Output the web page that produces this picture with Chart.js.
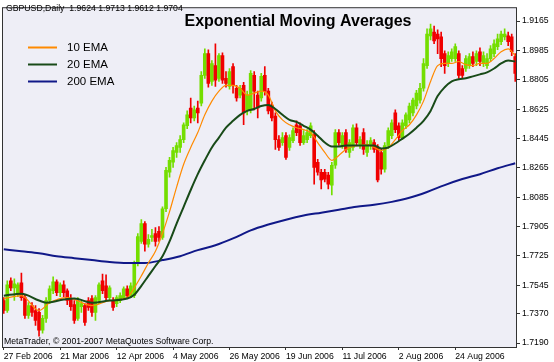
<!DOCTYPE html>
<html><head><meta charset="utf-8">
<script src="https://cdn.jsdelivr.net/npm/chart.js@4.4.0/dist/chart.umd.min.js"></script>
<style>html,body{margin:0;padding:0;background:#fff;}#wrap{width:554px;height:362px;}</style>
</head><body><div id="wrap"><canvas id="c" width="554" height="362"></canvas></div>
<script>
// ---- data ----
const startDate = '2006-02-27';
const barCount = 146;
const xTickLabels = ['27 Feb 2006','21 Mar 2006','12 Apr 2006','4 May 2006','26 May 2006','19 Jun 2006','11 Jul 2006','2 Aug 2006','24 Aug 2006'];
const yTicks = [1.9165,1.8985,1.8805,1.8625,1.8445,1.8265,1.8085,1.7905,1.7725,1.7545,1.7370,1.7190];

const opens = [1.7451,1.7390,1.7572,1.7529,1.7499,1.7560,1.7469,1.7360,1.7420,1.7390,
1.7378,1.7269,1.7342,1.7451,1.7511,1.7566,1.7499,1.7547,1.7511,1.7463,
1.7426,1.7342,1.7414,1.7420,1.7451,1.7463,1.7378,1.7451,1.7572,1.7541,
1.7469,1.7451,1.7432,1.7451,1.7469,1.7523,1.7481,1.7481,1.7681,1.7814,
1.7923,1.7796,1.7838,1.7862,1.7875,1.7838,1.8014,1.8238,1.8299,1.8359,
1.8390,1.8438,1.8523,1.8632,1.8571,1.8632,1.8662,1.8832,1.8965,1.8795,
1.8892,1.8814,1.8953,1.8814,1.8765,1.8886,1.8753,1.8711,1.8771,1.8620,
1.8620,1.8832,1.8711,1.8693,1.8832,1.8735,1.8650,1.8583,1.8438,1.8420,
1.8462,1.8390,1.8432,1.8529,1.8523,1.8420,1.8438,1.8462,1.8468,1.8299,
1.8238,1.8238,1.8220,1.8159,1.8281,1.8481,1.8402,1.8481,1.8359,1.8390,
1.8511,1.8408,1.8481,1.8359,1.8402,1.8420,1.8390,1.8359,1.8256,1.8402,
1.8462,1.8602,1.8523,1.8450,1.8523,1.8559,1.8602,1.8644,1.8680,1.8753,
1.8892,1.9074,1.9098,1.9086,1.9068,1.8965,1.8905,1.8935,1.8935,1.8965,
1.8874,1.8874,1.8892,1.8947,1.8917,1.8977,1.8905,1.8892,1.8935,1.8965,
1.9008,1.9038,1.9068,1.9074,1.9068,1.8947];
const highs = [1.7469,1.7572,1.7590,1.7584,1.7560,1.7620,1.7487,1.7438,1.7438,1.7420,
1.7402,1.7360,1.7469,1.7541,1.7596,1.7578,1.7560,1.7572,1.7523,1.7487,
1.7451,1.7469,1.7451,1.7432,1.7469,1.7481,1.7481,1.7560,1.7614,1.7608,
1.7541,1.7469,1.7481,1.7499,1.7535,1.7541,1.7560,1.7693,1.7862,1.7947,
1.7935,1.7856,1.7887,1.7899,1.7905,1.8026,1.8268,1.8329,1.8390,1.8420,
1.8462,1.8541,1.8614,1.8693,1.8644,1.8674,1.8856,1.8995,1.8989,1.8923,
1.9026,1.8965,1.8971,1.8856,1.8874,1.8905,1.8771,1.8771,1.8789,1.8735,
1.8862,1.8856,1.8735,1.8844,1.8886,1.8753,1.8668,1.8602,1.8462,1.8481,
1.8481,1.8468,1.8511,1.8553,1.8541,1.8493,1.8499,1.8541,1.8493,1.8317,
1.8256,1.8256,1.8238,1.8299,1.8499,1.8499,1.8481,1.8499,1.8438,1.8529,
1.8535,1.8456,1.8505,1.8432,1.8450,1.8438,1.8408,1.8378,1.8420,1.8511,
1.8559,1.8620,1.8541,1.8559,1.8602,1.8662,1.8693,1.8741,1.8783,1.8935,
1.9117,1.9147,1.9135,1.9111,1.9098,1.8983,1.8977,1.8995,1.9026,1.8983,
1.8892,1.8953,1.8965,1.8977,1.8983,1.9001,1.8977,1.8965,1.9014,1.9050,
1.9086,1.9104,1.9117,1.9098,1.9086,1.8965];
const lows = [1.7372,1.7378,1.7511,1.7451,1.7475,1.7451,1.7342,1.7342,1.7354,1.7299,
1.7233,1.7251,1.7317,1.7432,1.7493,1.7481,1.7475,1.7475,1.7426,1.7390,
1.7311,1.7329,1.7378,1.7299,1.7390,1.7354,1.7329,1.7432,1.7493,1.7451,
1.7451,1.7390,1.7414,1.7438,1.7457,1.7469,1.7469,1.7469,1.7663,1.7802,
1.7753,1.7778,1.7814,1.7784,1.7814,1.7826,1.7996,1.8208,1.8268,1.8329,
1.8359,1.8420,1.8505,1.8541,1.8553,1.8541,1.8644,1.8814,1.8759,1.8771,
1.8765,1.8795,1.8783,1.8759,1.8747,1.8723,1.8674,1.8693,1.8529,1.8590,
1.8602,1.8620,1.8571,1.8674,1.8711,1.8596,1.8553,1.8378,1.8371,1.8402,
1.8317,1.8371,1.8420,1.8462,1.8402,1.8408,1.8420,1.8450,1.8165,1.8220,
1.8135,1.8178,1.8135,1.8099,1.8262,1.8402,1.8384,1.8359,1.8329,1.8371,
1.8402,1.8384,1.8347,1.8335,1.8378,1.8359,1.8178,1.8226,1.8238,1.8384,
1.8444,1.8481,1.8432,1.8438,1.8505,1.8541,1.8583,1.8626,1.8662,1.8735,
1.8874,1.9050,1.9026,1.8965,1.8886,1.8844,1.8886,1.8917,1.8917,1.8814,
1.8814,1.8856,1.8874,1.8886,1.8892,1.8892,1.8886,1.8874,1.8917,1.8947,
1.8989,1.9020,1.9050,1.9014,1.8953,1.8795];
const closes = [1.7390,1.7547,1.7529,1.7554,1.7547,1.7469,1.7360,1.7420,1.7378,1.7329,
1.7269,1.7342,1.7451,1.7523,1.7566,1.7499,1.7547,1.7499,1.7451,1.7414,
1.7329,1.7451,1.7432,1.7317,1.7408,1.7378,1.7469,1.7547,1.7511,1.7469,
1.7529,1.7408,1.7469,1.7481,1.7523,1.7481,1.7541,1.7681,1.7844,1.7923,
1.7796,1.7826,1.7850,1.7814,1.7838,1.8014,1.8250,1.8311,1.8371,1.8402,
1.8438,1.8529,1.8590,1.8571,1.8620,1.8602,1.8832,1.8965,1.8783,1.8905,
1.8802,1.8953,1.8802,1.8783,1.8856,1.8771,1.8693,1.8753,1.8602,1.8711,
1.8844,1.8735,1.8632,1.8826,1.8735,1.8614,1.8571,1.8438,1.8390,1.8450,
1.8329,1.8450,1.8493,1.8481,1.8420,1.8462,1.8481,1.8523,1.8268,1.8238,
1.8190,1.8196,1.8165,1.8281,1.8481,1.8420,1.8462,1.8378,1.8420,1.8511,
1.8420,1.8438,1.8378,1.8408,1.8432,1.8378,1.8190,1.8256,1.8402,1.8493,
1.8541,1.8499,1.8450,1.8541,1.8590,1.8644,1.8680,1.8723,1.8753,1.8905,
1.9086,1.9117,1.9044,1.9056,1.8935,1.8892,1.8953,1.8977,1.9008,1.8832,
1.8832,1.8935,1.8947,1.8905,1.8965,1.8917,1.8953,1.8935,1.8995,1.9026,
1.9056,1.9086,1.9086,1.9038,1.8977,1.8844];

const ema10Idx = [0,5,10,13,18,25,30,35,37,39,41,43,45,47,49,51,53,55,57,59,61,63,65,67,69,71,73,75,77,79,81,83,85,87,89,91,93,95,97,99,101,103,105,107,109,111,113,115,117,119,121,123,125,127,129,131,133,135,137,139,141,143,145];
const ema10Val = [1.7463,1.7481,1.7390,1.7438,1.7469,1.7420,1.7451,1.7469,1.7529,1.7602,1.7681,1.7753,1.7862,1.7996,1.8147,1.8287,1.8390,1.8481,1.8590,1.8674,1.8735,1.8771,1.8771,1.8753,1.8711,1.8723,1.8735,1.8711,1.8614,1.8559,1.8529,1.8511,1.8499,1.8481,1.8420,1.8359,1.8311,1.8341,1.8378,1.8396,1.8402,1.8408,1.8390,1.8371,1.8390,1.8438,1.8493,1.8529,1.8590,1.8674,1.8795,1.8892,1.8905,1.8905,1.8917,1.8898,1.8892,1.8905,1.8905,1.8935,1.8977,1.8995,1.8953];
const ema20Idx = [0,5,10,12,17,20,25,30,35,37,39,41,43,45,47,49,51,53,55,57,59,61,63,65,67,69,71,73,75,77,79,81,83,85,87,89,91,93,95,97,99,101,103,105,107,109,111,113,115,117,119,121,123,125,127,129,131,133,135,137,139,141,143,145];
const ema20Val = [1.7481,1.7493,1.7451,1.7438,1.7457,1.7463,1.7438,1.7451,1.7463,1.7487,1.7541,1.7602,1.7663,1.7723,1.7814,1.7923,1.8026,1.8129,1.8226,1.8311,1.8390,1.8450,1.8511,1.8553,1.8590,1.8614,1.8626,1.8644,1.8650,1.8626,1.8590,1.8559,1.8547,1.8523,1.8499,1.8462,1.8420,1.8396,1.8396,1.8402,1.8402,1.8402,1.8402,1.8402,1.8384,1.8390,1.8414,1.8444,1.8474,1.8511,1.8553,1.8614,1.8705,1.8759,1.8795,1.8808,1.8814,1.8826,1.8838,1.8850,1.8874,1.8905,1.8923,1.8917];
const ema200Idx = [0,5,10,15,20,25,30,35,40,45,50,55,60,65,70,75,80,85,90,95,100,105,110,115,120,125,130,135,140,145];
const ema200Val = [1.7766,1.7753,1.7741,1.7723,1.7711,1.7699,1.7687,1.7681,1.7681,1.7699,1.7723,1.7760,1.7790,1.7832,1.7881,1.7917,1.7947,1.7972,1.7990,1.8008,1.8026,1.8038,1.8056,1.8081,1.8117,1.8159,1.8196,1.8226,1.8262,1.8293];

// ---- build ----
const MONTHS = ['Jan','Feb','Mar','Apr','May','Jun','Jul','Aug','Sep','Oct','Nov','Dec'];
const categories = [];
(function(){
  const d = new Date(startDate + 'T12:00:00Z');
  while (categories.length < barCount) {
    const wd = d.getUTCDay();
    if (wd !== 0 && wd !== 6) categories.push(d.getUTCDate() + ' ' + MONTHS[d.getUTCMonth()] + ' ' + d.getUTCFullYear());
    d.setUTCDate(d.getUTCDate() + 1);
  }
})();
const xTickIdx = xTickLabels.map(l => categories.indexOf(l));

const UP = '#74de00', DOWN = '#f00000';
const candleColors = opens.map((o, i) => closes[i] >= o ? UP : DOWN);
const pts = (idx, val) => idx.map((k, j) => ({x: categories[k], y: val[j]}));

const FONT = '"Liberation Sans", Arial, sans-serif';
Chart.defaults.font.family = FONT;
Chart.defaults.color = '#000';

const mt4 = {
  id: 'mt4',
  beforeDraw(chart) {
    const {ctx, chartArea: a} = chart;
    ctx.save();
    ctx.fillStyle = '#ffffff';
    ctx.fillRect(0, 0, chart.width, chart.height);
    ctx.fillStyle = '#eeeef6';
    ctx.fillRect(a.left, a.top, a.right - a.left, a.bottom - a.top);
    ctx.restore();
  },
  afterDraw(chart) {
    const {ctx, chartArea: a} = chart;
    ctx.save();
    ctx.strokeStyle = '#333';
    ctx.lineWidth = 1;
    ctx.strokeRect(a.left + 0.5, a.top + 0.5, a.right - a.left - 1, a.bottom - a.top);
    ctx.fillStyle = '#000';
    ctx.textBaseline = 'middle';
    ctx.textAlign = 'left';
    ctx.font = '8.7px ' + FONT;
    ctx.fillText('GBPUSD,Daily  1.9624 1.9713 1.9612 1.9704', 6, 9);
    ctx.fillText('MetaTrader, \u00A9 2001-2007 MetaQuotes Software Corp.', 4, 342);
    ctx.font = 'bold 16px ' + FONT;
    ctx.textAlign = 'center';
    ctx.fillText('Exponential Moving Averages', 298, 22);
    // legend
    const items = chart.data.datasets.filter(d => d.type === 'line');
    ctx.textAlign = 'left';
    ctx.font = '11.5px ' + FONT;
    items.forEach((d, k) => {
      const y = 47 + k * 17;
      ctx.strokeStyle = d.borderColor;
      ctx.lineWidth = 2;
      ctx.beginPath(); ctx.moveTo(28, y + 0.5); ctx.lineTo(57, y + 0.5); ctx.stroke();
      ctx.fillStyle = '#000';
      ctx.fillText(d.label, 67, y + 1);
    });
    ctx.restore();
  }
};

new Chart(document.getElementById('c'), {
  type: 'bar',
  data: {
    labels: categories,
    datasets: [
      {type: 'line', label: '10 EMA', data: pts(ema10Idx, ema10Val), borderColor: '#ff8a00', borderWidth: 1.2, pointRadius: 0, cubicInterpolationMode: 'monotone', order: 1},
      {type: 'line', label: '20 EMA', data: pts(ema20Idx, ema20Val), borderColor: '#184a18', borderWidth: 2, pointRadius: 0, cubicInterpolationMode: 'monotone', order: 0},
      {type: 'line', label: '200 EMA', data: pts(ema200Idx, ema200Val), borderColor: '#101888', borderWidth: 2, pointRadius: 0, cubicInterpolationMode: 'monotone', order: 2},
      {type: 'bar', label: 'wick', data: lows.map((l, i) => [l, highs[i]]), backgroundColor: candleColors, barThickness: 1, order: 4},
      {type: 'bar', label: 'body', data: opens.map((o, i) => [o, closes[i]]), backgroundColor: candleColors, barThickness: 3, minBarLength: 1, order: 3}
    ]
  },
  options: {
    responsive: false,
    animation: false,
    devicePixelRatio: 1,
    layout: {padding: {left: 2, top: 3, right: 0, bottom: 0}},
    plugins: {legend: {display: false}, tooltip: {enabled: false}},
    datasets: {bar: {grouped: false}},
    scales: {
      x: {
        type: 'category', offset: true,
        grid: {display: true, offset: false, drawOnChartArea: false, drawTicks: true, tickLength: 3, color: '#333'},
        border: {display: false},
        ticks: {autoSkip: false, maxRotation: 0, align: 'start', padding: 1, font: {size: 8.7}, color: '#000'},
        afterBuildTicks: s => { s.ticks = xTickIdx.map(v => ({value: v})); },
        afterFit: s => { s.height = 15; }
      },
      y: {
        position: 'right', min: 1.7166, max: 1.9250,
        grid: {display: true, drawOnChartArea: false, drawTicks: true, tickLength: 3, color: '#333'},
        border: {display: false},
        ticks: {padding: 2, font: {size: 8.7}, color: '#000', callback: v => Number(v).toFixed(4)},
        afterBuildTicks: s => { s.ticks = yTicks.map(v => ({value: v})); },
        afterFit: s => { s.width = 37; }
      }
    }
  },
  plugins: [mt4]
});
</script></body></html>
